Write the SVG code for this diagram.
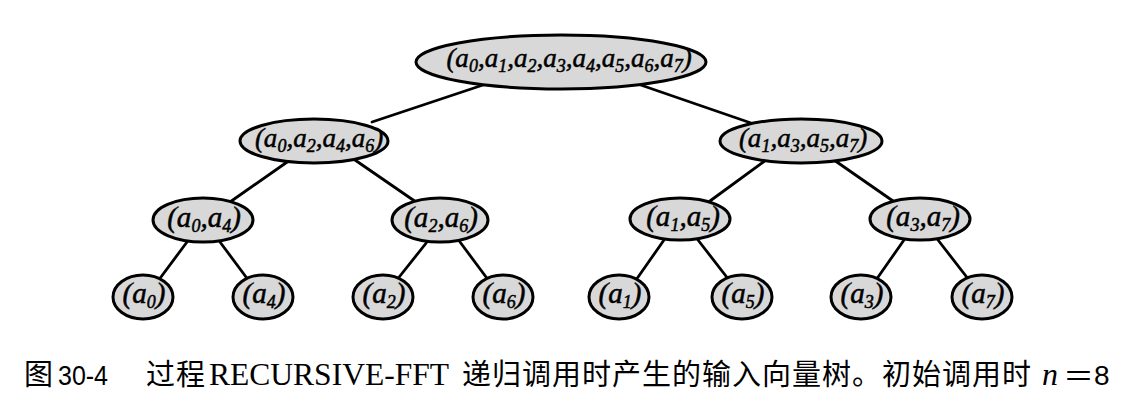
<svg xmlns="http://www.w3.org/2000/svg" width="1144" height="404" viewBox="0 0 1144 404">
<style>
.edge{stroke:#000;stroke-width:2.8;fill:none;stroke-linecap:round}
.node ellipse{fill:#d8d8d8;stroke:#000;stroke-width:3}
.t{font-family:"Liberation Serif",serif;font-style:italic;font-size:29px;text-anchor:middle;fill:#000;stroke:#000;stroke-width:0.5}
.t2{font-size:27px}
.s{font-size:18px}
.cj{font-family:"Noto Sans CJK SC",sans-serif;font-size:29px;letter-spacing:1px;fill:#000}
.la{font-family:"Liberation Sans",sans-serif;font-size:28px;fill:#000}
.lr{font-family:"Liberation Serif",serif;font-size:32px;fill:#000}
</style>
<rect width="1144" height="404" fill="#fff"/>
<g id="connectors">
<line class="edge" x1="489" y1="83" x2="372" y2="122"/>
<line class="edge" x1="632" y1="82" x2="751" y2="123"/>
<line class="edge" x1="290" y1="160" x2="230" y2="202"/>
<line class="edge" x1="355" y1="160" x2="416" y2="202"/>
<line class="edge" x1="766" y1="160" x2="710" y2="201"/>
<line class="edge" x1="834" y1="160" x2="893" y2="201"/>
<line class="edge" x1="187" y1="242" x2="158" y2="281"/>
<line class="edge" x1="220" y1="242" x2="249" y2="281"/>
<line class="edge" x1="427" y1="242" x2="396" y2="281"/>
<line class="edge" x1="460" y1="242" x2="489" y2="281"/>
<line class="edge" x1="664" y1="240" x2="636" y2="280"/>
<line class="edge" x1="698" y1="240" x2="729" y2="280"/>
<line class="edge" x1="904" y1="240" x2="876" y2="280"/>
<line class="edge" x1="938" y1="240" x2="969" y2="280"/>
</g>
<g id="n01234567" class="node">
<ellipse cx="561" cy="62" rx="145" ry="27"/>
<text class="t t2" x="569" y="67">(a<tspan class="s" dy="5">0</tspan><tspan dy="-5">,a</tspan><tspan class="s" dy="5">1</tspan><tspan dy="-5">,a</tspan><tspan class="s" dy="5">2</tspan><tspan dy="-5">,a</tspan><tspan class="s" dy="5">3</tspan><tspan dy="-5">,a</tspan><tspan class="s" dy="5">4</tspan><tspan dy="-5">,a</tspan><tspan class="s" dy="5">5</tspan><tspan dy="-5">,a</tspan><tspan class="s" dy="5">6</tspan><tspan dy="-5">,a</tspan><tspan class="s" dy="5">7</tspan><tspan dy="-5">)</tspan></text>
</g>
<g id="n0246" class="node">
<ellipse cx="314" cy="141" rx="74" ry="22"/>
<text class="t t2" x="319" y="147">(a<tspan class="s" dy="5">0</tspan><tspan dy="-5">,a</tspan><tspan class="s" dy="5">2</tspan><tspan dy="-5">,a</tspan><tspan class="s" dy="5">4</tspan><tspan dy="-5">,a</tspan><tspan class="s" dy="5">6</tspan><tspan dy="-5">)</tspan></text>
</g>
<g id="n1357" class="node">
<ellipse cx="801" cy="141" rx="81" ry="22"/>
<text class="t t2" x="803" y="147">(a<tspan class="s" dy="5">1</tspan><tspan dy="-5">,a</tspan><tspan class="s" dy="5">3</tspan><tspan dy="-5">,a</tspan><tspan class="s" dy="5">5</tspan><tspan dy="-5">,a</tspan><tspan class="s" dy="5">7</tspan><tspan dy="-5">)</tspan></text>
</g>
<g id="n04" class="node">
<ellipse cx="203" cy="220" rx="50" ry="22"/>
<text class="t" x="204" y="227">(a<tspan class="s" dy="5">0</tspan><tspan dy="-5">,a</tspan><tspan class="s" dy="5">4</tspan><tspan dy="-5">)</tspan></text>
</g>
<g id="n26" class="node">
<ellipse cx="440" cy="220" rx="48" ry="22"/>
<text class="t" x="441" y="227">(a<tspan class="s" dy="5">2</tspan><tspan dy="-5">,a</tspan><tspan class="s" dy="5">6</tspan><tspan dy="-5">)</tspan></text>
</g>
<g id="n15" class="node">
<ellipse cx="680" cy="219" rx="50" ry="21"/>
<text class="t" x="683" y="226">(a<tspan class="s" dy="5">1</tspan><tspan dy="-5">,a</tspan><tspan class="s" dy="5">5</tspan><tspan dy="-5">)</tspan></text>
</g>
<g id="n37" class="node">
<ellipse cx="920" cy="219" rx="50" ry="21"/>
<text class="t" x="923" y="226">(a<tspan class="s" dy="5">3</tspan><tspan dy="-5">,a</tspan><tspan class="s" dy="5">7</tspan><tspan dy="-5">)</tspan></text>
</g>
<g id="n0" class="node"><ellipse cx="143" cy="297" rx="30" ry="22"/><text class="t" x="144" y="303">(a<tspan class="s" dy="5">0</tspan><tspan dy="-5">)</tspan></text></g>
<g id="n4" class="node"><ellipse cx="263" cy="297" rx="30" ry="22"/><text class="t" x="264" y="303">(a<tspan class="s" dy="5">4</tspan><tspan dy="-5">)</tspan></text></g>
<g id="n2" class="node"><ellipse cx="383" cy="297" rx="30" ry="22"/><text class="t" x="384" y="303">(a<tspan class="s" dy="5">2</tspan><tspan dy="-5">)</tspan></text></g>
<g id="n6" class="node"><ellipse cx="503" cy="297" rx="30" ry="22"/><text class="t" x="504" y="303">(a<tspan class="s" dy="5">6</tspan><tspan dy="-5">)</tspan></text></g>
<g id="n1" class="node"><ellipse cx="619" cy="297" rx="30" ry="22"/><text class="t" x="620" y="303">(a<tspan class="s" dy="5">1</tspan><tspan dy="-5">)</tspan></text></g>
<g id="n5" class="node"><ellipse cx="742" cy="297" rx="30" ry="22"/><text class="t" x="743" y="303">(a<tspan class="s" dy="5">5</tspan><tspan dy="-5">)</tspan></text></g>
<g id="n3" class="node"><ellipse cx="861" cy="297" rx="30" ry="22"/><text class="t" x="862" y="303">(a<tspan class="s" dy="5">3</tspan><tspan dy="-5">)</tspan></text></g>
<g id="n7" class="node"><ellipse cx="982" cy="297" rx="30" ry="22"/><text class="t" x="983" y="303">(a<tspan class="s" dy="5">7</tspan><tspan dy="-5">)</tspan></text></g>
<g id="caption">
<text class="cj" x="24" y="385">图</text>
<text class="la" x="58" y="385" textLength="50" lengthAdjust="spacingAndGlyphs">30-4</text>
<text class="cj" x="146" y="385">过程</text>
<text class="lr" x="209" y="385" textLength="240" lengthAdjust="spacingAndGlyphs">RECURSIVE-FFT</text>
<text class="cj" x="462" y="385">递归调用时产生的输入向量树。初始调用时</text>
<text class="lr" x="1042" y="385" font-style="italic">n</text>
<text class="la" x="1065" y="385" textLength="27" lengthAdjust="spacingAndGlyphs">=</text>
<text class="la" x="1094" y="385">8</text>
</g>
</svg>
